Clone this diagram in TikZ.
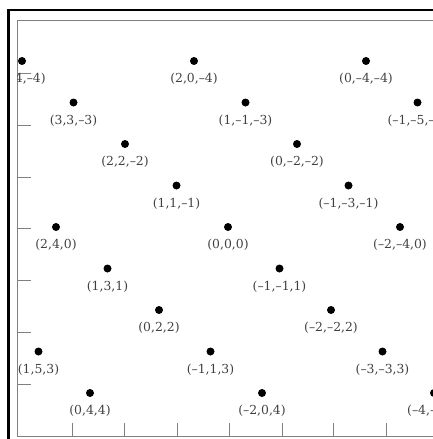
\documentclass[tikz,border=0pt]{standalone}
\usepackage{fontspec}
\newfontfamily\lblfont[Ligatures=TeX]{DejaVu Serif}
\begin{document}
\begin{tikzpicture}[x=1pt,y=-1pt,
  dot/.style={circle,fill=black,inner sep=0pt,minimum size=8pt},
  lbl/.style={font=\lblfont\fontsize{12.4}{14}\selectfont,text=black!75,inner sep=0pt},
  framegray/.style={black!50,line width=0.9pt},
  heavyline/.style={black,line width=2.6pt}]
\useasboundingbox (0,0) rectangle (433,439);
\fill[white] (0,0) rectangle (433,439);
% outer heavy frame
\draw[heavyline] (8.5,439) -- (8.5,10) -- (433,10);
% inner frame
\draw[framegray] (433,20) -- (17,20) -- (17,436) -- (433,436);
% ticks
\foreach \ty in {73,125,177,228.5,280,332,384} \draw[framegray] (17,\ty) -- (31,\ty);
\foreach \tx in {72,124,177,229,282,333,386} \draw[framegray] (\tx,436) -- (\tx,423);
% lattice points
\begin{scope}
\clip (17.5,20.5) rectangle (433,435.5);
\foreach \p/\r/\t [count=\i] in {
  4/-4/{(4,4,–4)}, 2/-4/{(2,0,–4)}, 0/-4/{(0,–4,–4)},
  3/-3/{(3,3,–3)}, 1/-3/{(1,–1,–3)}, -1/-3/{(–1,–5,–3)},
  2/-2/{(2,2,–2)}, 0/-2/{(0,–2,–2)},
  1/-1/{(1,1,–1)}, -1/-1/{(–1,–3,–1)},
  2/0/{(2,4,0)}, 0/0/{(0,0,0)}, -2/0/{(–2,–4,0)},
  1/1/{(1,3,1)}, -1/1/{(–1,–1,1)},
  0/2/{(0,2,2)}, -2/2/{(–2,–2,2)},
  1/3/{(1,5,3)}, -1/3/{(–1,1,3)}, -3/3/{(–3,–3,3)},
  0/4/{(0,4,4)}, -2/4/{(–2,0,4)}, -4/4/{(–4,–4,4)}}
{
  \node[dot] (d\i) at ({228-86*(\p)-34.5*(\r)},{227+41.5*(\r)}) {};
  \node[lbl] (l\i) at ({228-86*(\p)-34.5*(\r)},{245+41.5*(\r)}) {\t};
}
\end{scope}
\end{tikzpicture}
\end{document}
